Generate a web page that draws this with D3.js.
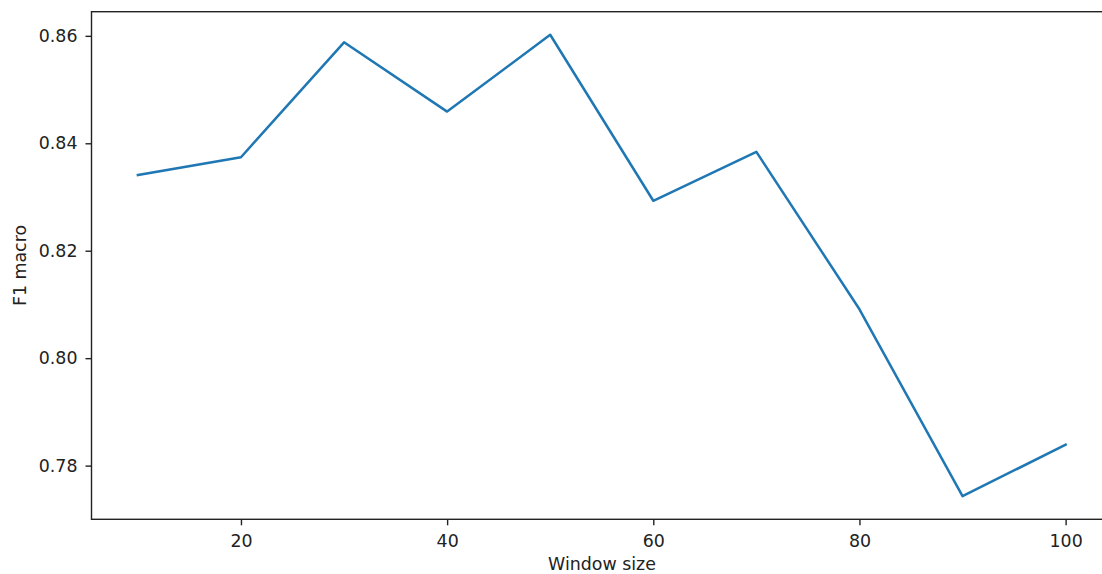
<!DOCTYPE html>
<html>
<head>
<meta charset="utf-8">
<script src="https://cdn.jsdelivr.net/npm/d3@7"></script>
<style>
  body { margin: 0; background: #fff; }
  text { font-family: "DejaVu Sans", sans-serif; fill: #222; }
</style>
</head>
<body>
<svg id="chart" width="1102" height="574"></svg>
<script>
// window sizes and F1 macro scores
var windowSizes = [10, 20, 30, 40, 50, 60, 70, 80, 90, 100];
var f1Macro = [0.8341, 0.8374, 0.8588, 0.8459, 0.8602, 0.8293, 0.8384, 0.8091, 0.7743, 0.7839];
var xTicks = [20, 40, 60, 80, 100];
var yTicks = [0.78, 0.80, 0.82, 0.84, 0.86];

var plotLeft = 91.5, plotRight = 1112, plotTop = 11.7, plotBottom = 519.3;
var fontSize = 17.4;

var svg = d3.select("#chart");

// matplotlib-like 5% margins
var xMin = d3.min(windowSizes), xMax = d3.max(windowSizes);
var yMin = d3.min(f1Macro), yMax = d3.max(f1Macro);
var xPad = (xMax - xMin) * 0.05, yPad = (yMax - yMin) * 0.05;

var x = d3.scaleLinear().domain([xMin - xPad, xMax + xPad]).range([plotLeft, plotRight]);
var y = d3.scaleLinear().domain([yMin - yPad, yMax + yPad]).range([plotBottom, plotTop]);

var xAxis = svg.append("g")
    .attr("transform", "translate(0," + plotBottom + ")")
    .call(d3.axisBottom(x).tickValues(xTicks).tickSize(6).tickPadding(9).tickFormat(d3.format("d")));

var yAxis = svg.append("g")
    .attr("transform", "translate(" + plotLeft + ",0)")
    .call(d3.axisLeft(y).tickValues(yTicks).tickSize(6).tickPadding(8).tickFormat(d3.format(".2f")));

[xAxis, yAxis].forEach(function(a) {
    a.select(".domain").remove();
    a.selectAll(".tick line").attr("stroke", "#222").attr("stroke-width", 1.4);
    a.selectAll(".tick text").attr("font-size", fontSize).attr("font-family", "DejaVu Sans, sans-serif").attr("fill", "#222");
});

// frame
svg.append("rect")
    .attr("x", plotLeft)
    .attr("y", plotTop)
    .attr("width", plotRight - plotLeft)
    .attr("height", plotBottom - plotTop)
    .attr("fill", "none")
    .attr("stroke", "#222")
    .attr("stroke-width", 1.4);

var line = d3.line()
    .x(function(d, i) { return x(windowSizes[i]); })
    .y(function(d) { return y(d); });

svg.append("path")
    .datum(f1Macro)
    .attr("d", line)
    .attr("fill", "none")
    .attr("stroke", "#1f77b4")
    .attr("stroke-width", 2.5)
    .attr("stroke-linejoin", "round")
    .attr("stroke-linecap", "square");

svg.append("text")
    .text("Window size")
    .attr("x", 602)
    .attr("y", 570)
    .attr("text-anchor", "middle")
    .attr("font-size", fontSize);

svg.append("text")
    .text("F1 macro")
    .attr("transform", "translate(26," + ((plotTop + plotBottom) / 2) + ")rotate(-90)")
    .attr("text-anchor", "middle")
    .attr("font-size", fontSize);
</script>
</body>
</html>
